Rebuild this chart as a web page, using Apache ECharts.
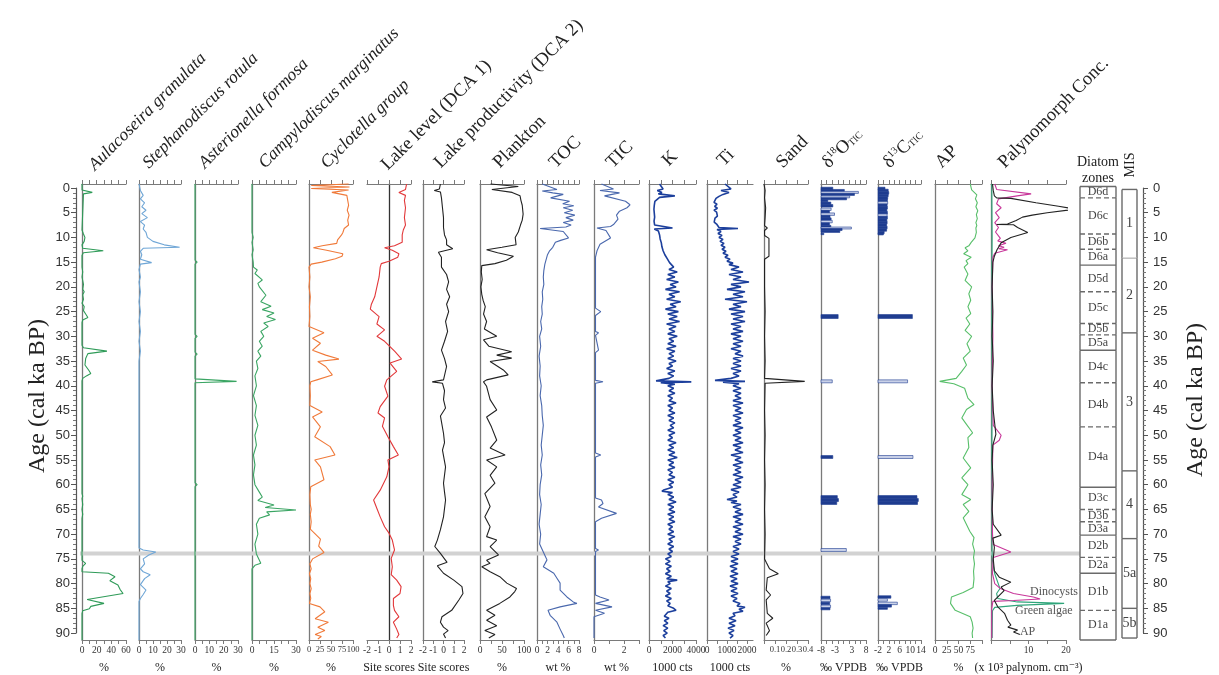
<!DOCTYPE html>
<html><head><meta charset="utf-8">
<script src="https://cdn.jsdelivr.net/npm/echarts@6/dist/echarts.min.js"></script>
<style>html,body{margin:0;padding:0;background:#fff}#c{width:1219px;height:675px}</style>
</head><body><div id="c"></div>
<script>
// ---------------- DATA (value, age in cal ka BP) ----------------
const aulacoseira = [[0,-0.8],[0,0.4],[14,0.9],[2,1.2],[0,1.6],[0,8.5],[2,9.3],[4,10],[3,10.8],[0,11.5],[1,12.2],[29,12.7],[2,13.1],[0,13.6],[0,16],[1,17],[0,18],[2,19.5],[1,20.5],[3,21],[1,21.6],[2,22.5],[0,23.3],[3,24],[2,24.8],[5,25.5],[8,26.2],[1,26.7],[0,27.2],[0,31.8],[2,32.3],[34,33],[8,33.5],[5,34.5],[4,35.8],[9,36.8],[12,37.5],[6,38],[1,38.5],[0,39],[0,61.8],[1,62.3],[0,62.8],[1,64],[0,65],[1,66],[0,66.8],[0,75.3],[5,75.9],[1,76.5],[0,77],[0,77.6],[36,77.9],[45,78.6],[38,79.4],[49,80.3],[52,81.2],[56,82],[57,82.3],[7,83.2],[30,84],[12,84.6],[10,85.1],[1,85.5],[0,86],[0,91.4]];
const stephanodiscus = [[0,-0.8],[1,0.5],[3,1.5],[1,2.2],[4,3],[2,3.8],[5,4.5],[2,5.2],[6,6],[1,6.8],[4,7.5],[3,8.3],[5,9],[6,10],[10,10.8],[18,11.5],[29,12],[3,12.2],[1,12.8],[2,13.5],[1,14.4],[9,15.1],[1,15.4],[0,16.5],[1,18],[0,19],[1,21],[0,23],[1,25],[0,27],[1,29],[0,31],[1,33],[0,35],[0,72.8],[3,73.2],[12,73.6],[7,74.2],[3,75],[4,76],[1,77],[3,77.6],[8,78.2],[4,79],[1,80.2],[5,81.3],[3,82.2],[1,83],[0,83.6],[0,91.4]];
const asterionella = [[0,-0.8],[0,14.6],[1.5,15],[0,15.4],[0,29.6],[1.5,30],[0,30.4],[0,33.2],[1.5,33.6],[0,34],[0,38.6],[29,39.1],[0,39.4],[0,59.6],[1.5,60],[0,60.4],[0,91.4]];
const campylodiscus = [[0,-0.8],[0,9],[0.8,10],[0,11],[0.8,12.5],[0,13.5],[0.8,15],[1,16],[3.6,16.6],[2,17.3],[7,18.6],[4,19.3],[5,20],[9.5,21.7],[6,23],[13,23.9],[7,24.6],[15,25.3],[10,26],[16,26.6],[8,27.3],[11,28],[6,29],[8,30],[5,31],[7,32],[4,33],[6,34],[3,35],[4,36.5],[2,38],[3,40],[1,42],[3,44],[2,46],[4,48],[2,50],[3,52],[1,54],[2,56],[1,58],[2,60],[5,61.5],[7,62.5],[4,63.2],[15,64.1],[9,64.6],[30,65.1],[10,65.5],[12,66.1],[5,66.8],[3,68],[4,70],[2,72],[3,74],[6,75.9],[2,76.3],[0,77],[0,91.4]];
const cyclotella = [[90,-0.8],[5,-0.5],[92,-0.2],[5,0.1],[90,0.4],[52,0.9],[86,1.5],[88,2.5],[90,3.5],[87,4.5],[91,5.5],[88,6.5],[90,7.5],[80,8.2],[77,9],[74,9.5],[65,10.5],[63,11.2],[30,11.7],[10,12.1],[40,12.6],[77,13.3],[75,13.8],[60,14.3],[29,15],[5,15.4],[0,16],[2,18],[0,20],[3,22],[1,24],[2,26],[0,28],[34,29.3],[8,30.4],[26,31.4],[8,32.8],[38,33.8],[68,34.6],[20,35.1],[38,36.1],[53,37.8],[18,38.8],[4,39.2],[2,40],[3,42],[2,44],[30,45.3],[8,46.3],[26,48.3],[13,50.3],[48,52.3],[59,54],[13,55],[26,56.4],[34,59],[4,60.4],[2,62],[3,64],[5,65],[3,66],[5,67.5],[3,69],[18,70.3],[26,71],[22,72.4],[34,73.7],[8,75],[2,76],[5,77],[1,78],[4,79],[2,80],[5,81],[2,82],[4,83],[1,84],[25,84.7],[36,85.7],[14,87.1],[44,87.8],[20,88.8],[36,89.5],[14,90.3],[28,90.7],[20,91.2]];
const lakeLevel = [[1.6,-0.8],[1.5,0.3],[0.9,0.9],[1.5,1.5],[1.4,2.5],[1.5,4],[1.4,6],[1.5,7.5],[1.3,8.5],[1.2,9.5],[1.2,11],[0.5,11.7],[-0.4,12.1],[0.3,12.6],[0.9,13.3],[0.8,14],[0.3,14.5],[0,14.8],[-0.7,15.3],[-0.8,16],[-0.9,18],[-1.1,20],[-1.3,22],[-1.6,23.5],[-1.7,24.5],[-0.9,26],[-1.1,27.5],[-0.4,28.7],[-1.1,30],[-0.4,31],[0.55,33.1],[1.15,34.6],[0.1,35.4],[0.7,37.1],[-0.2,38.8],[-0.4,40.1],[-0.1,42.1],[-0.8,44.2],[-1,45.5],[-0.4,46.5],[-0.6,48.2],[-0.1,50.3],[0.4,52.3],[0.85,54],[-0.1,55],[0,56.4],[-0.2,58.4],[-0.8,61.1],[-1.4,63.1],[-1.1,64.8],[-0.8,66.5],[-0.4,68.5],[0,69.8],[0.3,71.2],[0.5,73.2],[0.2,74.9],[0.3,76.6],[0.2,78.2],[0.7,79.3],[1.1,80.6],[1,82],[0.4,83],[0.4,84.4],[0.5,85.4],[0.9,86.7],[0.4,87.8],[0.7,89.2],[0.9,90.3],[0.7,91]];
const lakeProductivity = [[-0.3,-0.8],[-0.4,0.2],[-0.9,0.5],[-0.3,0.8],[-0.2,2],[-0.1,4],[0,6],[0,8],[0.1,9.5],[0.3,10.5],[0.3,11.5],[0.9,12.3],[-0.5,13],[-0.2,14],[-0.2,16],[0.3,17.5],[0.5,19],[0.3,20.5],[0.6,22],[0.3,23.5],[0.5,25],[0.2,27],[0.4,29],[0.1,31],[-0.2,32.8],[0.1,34.5],[0.3,36.1],[0,38.8],[-1.1,39.2],[-0.1,39.5],[0.1,41],[0,42.8],[0.2,44.5],[-0.3,46.1],[0,49.6],[0.1,51.5],[-0.1,53],[0.2,56.4],[0,59.7],[0.1,61.5],[0.2,63.1],[0,66.5],[-0.3,69.1],[-0.6,71.2],[-0.85,72.5],[-0.3,73.9],[0.35,75.7],[-0.6,76.4],[0,77.9],[1,79.3],[1.8,80.6],[1.9,82],[1.5,83.3],[0.8,85.4],[-0.15,86.7],[-0.3,87.8],[0,88.8],[0.45,89.5],[0,90.2],[0.2,91]];
const plankton = [[24,-0.8],[87,-0.3],[27,0.3],[73,0.9],[91,1.6],[93,2.5],[96,3.5],[98,5.3],[96,6.5],[92,7.5],[87,8.9],[80,10],[82,11.5],[50,12],[15,12.5],[40,13.1],[76,13.8],[60,14.6],[34,15.3],[4,15.7],[3,17],[5,18.5],[2,20],[4,21.5],[7,22.7],[12,24],[8,25.5],[15,27],[10,28.5],[38,30],[8,30.7],[20,32],[72,33.1],[38,33.8],[72,34.4],[23,35.1],[53,36.8],[64,37.8],[15,38.8],[8,39.2],[15,40.1],[23,42.8],[38,44.9],[15,46.3],[26,48.3],[38,51],[23,52.6],[57,54],[15,55],[38,56.4],[23,58.1],[34,59.7],[11,61.8],[23,64.4],[11,66.5],[23,68.5],[15,70.5],[38,71.2],[23,72.5],[42,74.2],[15,75.3],[23,75.9],[4,76.6],[23,77.6],[45,78.6],[61,79.9],[83,81],[79,81.6],[68,82.7],[45,84],[15,85.4],[34,86.4],[15,87.4],[38,88.5],[11,89.5],[34,90.3],[20,91]];
const toc = [[1,-0.8],[3.8,0.3],[1,0.6],[3,1],[5,1.3],[2.6,2],[6.2,2.7],[4.9,3.2],[7,3.6],[5,4],[6.8,4.5],[5.2,5],[7.2,5.5],[5.5,6],[6.9,6.5],[5,7],[6.5,7.5],[5.5,7.9],[0.6,8.2],[5,8.8],[6,10.1],[4.5,10.6],[3.5,11],[3,12],[2.4,12.7],[2,13.5],[1.5,15.4],[1.3,16.7],[1.2,18],[1.3,19.5],[1,21],[1.1,22.5],[0.9,24],[1,25.5],[0.7,27],[0.9,28.5],[0.5,30],[0.7,32],[0.4,34],[0.6,36],[0.5,38],[0.8,40],[0.6,42],[0.9,44],[1,46],[1.2,48],[1,50],[0.8,52],[1,54],[0.7,56],[0.9,58],[0.6,60],[0.5,62],[0.8,64],[0.6,66],[0.4,68],[0.7,70],[0.5,72],[1.6,74.5],[1.9,75.2],[1.2,76.6],[3.2,77.9],[3.8,78.9],[4.4,79.9],[4.4,81.3],[5.7,82.7],[6.9,83.7],[7.6,84],[4.4,84.7],[2.1,85.4],[2.5,86.4],[3.8,87.8],[4.4,89.2],[5,90.5],[5.2,91]];
const tic = [[0.5,-0.8],[1.3,0.2],[0.4,0.5],[1.7,1],[0.7,1.6],[2.1,2.7],[2.4,3.4],[2.2,4],[1.7,4.7],[1.5,5.5],[1.6,6.3],[1.3,7.4],[1.1,7.8],[0.2,8.1],[0.8,8.6],[1.1,10.1],[0.4,11.4],[0.2,12.7],[0.1,14],[0.1,24.3],[0.45,25],[0.1,25.8],[0.1,29],[0.3,29.3],[0.1,29.8],[0.3,32.8],[0.1,33.3],[0.1,38.9],[0.6,39.2],[0.1,39.5],[0.1,53.6],[0.45,54],[0.1,54.4],[0.1,62.7],[0.5,63.1],[0.6,63.8],[0.3,64.5],[1.5,65.8],[0.5,66.8],[0.1,67.5],[0.1,72.9],[0.3,73.2],[0.1,73.5],[0.1,82.3],[0.4,82.7],[1,83.3],[0.1,84],[1.2,84.7],[0.1,85.4],[0.7,86],[0,86.7],[0,91]];
const potassium = [[900,-0.8],[1200,0.2],[700,0.5],[1100,0.9],[800,1.2],[2200,1.6],[900,1.9],[700,2.3],[500,2.7],[650,3.1],[450,3.5],[620,3.9],[420,4.3],[580,4.7],[450,5.1],[600,5.5],[480,5.9],[560,6.3],[430,6.7],[600,7.1],[480,7.5],[650,7.8],[2000,8.1],[450,8.3],[800,8.7],[650,9.1],[900,9.5],[750,9.9],[950,10.3],[800,10.7],[1050,11.1],[900,11.5],[1100,11.9],[950,12.3],[1200,12.7],[1050,13.1],[1350,13.5],[1200,13.9],[1550,14.3],[1400,14.7],[1750,15.1],
[1600,15.5],[2100,16],[1700,16.5],[2400,17],[1600,17.5],[2200,18],[1500,18.5],[2500,19],[1800,19.5],[2300,20],[1400,20.5],[2600,21],[1700,21.5],[2200,22],[1500,22.5],[2700,23],[1800,23.5],[2300,24],[1400,24.5],[2500,25],[1600,25.5],[2400,26],[1700,26.5],[2600,27],[1500,27.5],[2300,28],[1700,28.5],[2200,29],[1600,29.5],[2400,30],[1700,30.5],[2100,31],[1600,31.5],[2300,32],[1500,32.5],[2200,33],[1700,33.5],[2100,34],[1600,34.5],[2300,35],[1700,35.5],[2000,36],[1500,36.5],[2200,37],[1600,37.5],[2100,38],[1700,38.5],[600,39],[3600,39.2],[1000,39.4],[2200,39.7],[1600,40],[2100,40.5],[1700,41],[2200,41.5],[1600,42],[2000,42.5],[1700,43],[2300,43.5],[1600,44],[2000,44.5],[1700,45],[2200,45.5],[1600,46],[2100,46.5],[1700,47],[2200,47.5],[1800,48],[2100,48.5],[1600,49],[2200,49.5],[1700,50],[2000,50.5],[1600,51],[2300,51.5],[1700,52],[2100,52.5],[1600,53],[2200,53.5],[1700,54],[2400,54.5],[1600,55],[2100,55.5],[1700,56],[2200,56.5],[1600,57],[2000,57.5],[1700,58],[2200,58.5],[1600,59],[2100,59.5],[1700,60],[2000,60.5],[1300,61],[1100,61.3],[2000,61.6],[1600,62],[2100,62.5],[1700,63],[2300,63.5],[1600,64],[2100,64.5],[1700,65],[2200,65.5],[1600,66],[2100,66.5],[1700,67],[2200,67.5],[1600,68],[2000,68.5],[1700,69],[2100,69.5],[1600,70],[2200,70.5],[1700,71],[2000,71.5],[1600,72],[2100,72.5],[1700,73],[2000,73.5],[1600,74],[1900,74.5],[1400,75],[1800,75.5],[1400,76],[1900,76.5],[1500,77],[1800,77.5],[1400,78],[1900,78.5],[1500,79],[2400,79.3],[1600,79.6],[1800,80],[1400,80.5],[1900,81],[1500,81.5],[1800,82],[1400,82.5],[1900,83],[1500,83.5],[1800,84],[1600,84.5],[2100,85],[2300,85.4],[1600,85.8],[1700,86.2],[1300,86.6],[1700,87],[1300,87.5],[1600,88],[1200,88.5],[1600,89],[1250,89.5],[1550,90],[1200,90.5],[1400,91]];
const titanium = [[900,-0.8],[1200,0.2],[700,0.5],[1100,0.9],[800,1.3],[600,1.7],[450,2.1],[550,2.5],[350,2.9],[500,3.3],[380,3.7],[520,4.1],[350,4.5],[480,4.9],[380,5.3],[520,5.7],[400,6.1],[500,6.5],[360,6.9],[480,7.3],[400,7.7],[600,8],[1550,8.2],[500,8.4],[700,8.8],[550,9.2],[750,9.6],[600,10],[800,10.4],[650,10.8],[850,11.2],[700,11.6],[900,12],[750,12.4],[950,12.8],[800,13.2],[1050,13.6],[900,14],[1150,14.4],[1000,14.8],[1300,15.2],
[1100,15.5],[1600,16],[1200,16.5],[1800,17],[1100,17.5],[1700,18],[1300,18.5],[2100,19],[1200,19.5],[1700,20],[1000,20.5],[1900,21],[1300,21.5],[1800,22],[900,22.5],[2000,23],[1300,23.5],[1700,24],[1100,24.5],[1900,25],[1200,25.5],[1800,26],[1300,26.5],[1900,27],[1200,27.5],[1700,28],[1300,28.5],[1800,29],[1200,29.5],[1700,30],[1300,30.5],[1800,31],[1300,31.5],[1700,32],[1200,32.5],[1700,33],[1400,33.5],[1800,34],[1300,34.5],[1700,35],[1300,35.5],[1700,36],[1200,36.5],[1700,37],[1300,37.5],[1600,38],[1200,38.5],[400,38.9],[1900,39.1],[800,39.3],[1600,39.6],[1300,40],[1700,40.5],[1300,41],[1700,41.5],[1400,42],[1700,42.5],[1300,43],[1800,43.5],[1300,44],[1700,44.5],[1400,45],[1800,45.5],[1300,46],[1700,46.5],[1400,47],[1700,47.5],[1300,48],[1800,48.5],[1400,49],[1700,49.5],[1300,50],[1700,50.5],[1400,51],[1800,51.5],[1300,52],[1700,52.5],[1400,53],[1800,53.5],[1200,54],[1700,54.5],[1400,55],[1800,55.5],[1300,56],[1700,56.5],[1400,57],[1700,57.5],[1300,58],[1800,58.5],[1400,59],[1700,59.5],[1300,60],[1700,60.5],[1200,61],[1600,61.5],[1300,62],[1500,62.5],[1000,63],[1500,63.3],[1200,63.6],[1700,64],[1300,64.5],[1700,65],[1400,65.5],[1800,66],[1300,66.5],[1700,67],[1400,67.5],[1800,68],[1300,68.5],[1700,69],[1400,69.5],[1800,70],[1300,70.5],[1700,71],[1400,71.5],[1700,72],[1300,72.5],[1600,73],[1300,73.5],[1600,74],[1200,74.5],[1550,75],[1200,75.5],[1550,76],[1150,76.5],[1500,77],[1200,77.5],[1550,78],[1150,78.5],[1500,79],[1200,79.5],[1550,80],[1150,80.5],[1500,81],[1200,81.5],[1550,82],[1200,82.5],[1500,83],[1300,83.5],[1650,84],[1500,84.5],[1900,84.8],[1600,85.2],[1800,85.6],[1300,86],[1400,86.5],[1100,87],[1450,87.5],[1100,88],[1400,88.5],[1050,89],[1350,89.5],[1100,90],[1300,90.5],[1150,91]];
const sand = [[0,-0.8],[0.01,0.5],[0.005,2],[0.015,4],[0.01,6],[0.005,7.6],[0.03,8.1],[0.005,8.6],[0.005,9.6],[0.045,10.2],[0.045,13.8],[0.005,14.4],[0.005,20],[0.01,25],[0.005,30],[0.01,35],[0.005,38.5],[0.37,39.1],[0.01,39.5],[0.005,45],[0.01,50],[0.005,55],[0.01,60],[0.005,65],[0.01,70],[0.005,75],[0.02,75.7],[0.05,77],[0.13,78],[0.03,78.8],[0.02,81.3],[0.06,82.3],[0.02,83.3],[0.03,86],[0.08,87],[0.02,88],[0.05,89.5],[0.02,90.5]];
// bars: [age, value, thickness (ka), style 0=filled 1=open]
const d18oBars = [[0.1,-3.8,0.5,0],[0.5,0.3,0.4,0],[0.9,5.3,0.4,1],[1.3,3.9,0.4,0],[1.8,2.2,0.4,1],[2.2,1.1,0.4,0],[2.6,-5.6,0.4,0],[3.1,-4.5,0.5,0],[3.6,-3.8,0.5,0],[4.3,-4.4,0.5,1],[4.8,-5,0.5,0],[5.3,-3.2,0.5,1],[5.8,-4.8,0.5,0],[6.3,-4.4,0.5,0],[6.8,-4,0.5,1],[7.3,-5,0.5,0],[7.8,-4.5,0.5,0],[8.1,2.8,0.4,1],[8.4,-0.5,0.4,0],[8.8,-1.3,0.4,0],[9.3,-7,0.3,0],[26,-1.9,0.8,0],[39.1,-4,0.6,1],[54.4,-3.8,0.6,0],[62.5,-2.2,0.6,0],[63.1,-1.8,0.6,0],[63.7,-2.4,0.6,0],[73.2,1,0.6,1],[82.8,-4.8,0.5,0],[83.4,-4.6,0.5,1],[84,-4.9,0.5,0],[84.6,-4.6,0.5,1],[85.1,-4.8,0.4,0]];
const d13cBars = [[0.1,0.6,0.5,0],[0.5,1.8,0.5,0],[1,2,0.5,0],[1.5,1.8,0.5,0],[2,1.6,0.5,0],[2.5,1.5,0.5,0],[3,1.6,0.5,1],[3.5,1.4,0.5,0],[4,1.5,0.5,0],[4.5,1.3,0.5,0],[5,1.5,0.5,0],[5.5,1.4,0.5,1],[6,1.5,0.5,0],[6.5,1.3,0.5,0],[7,1.4,0.5,0],[7.5,1.2,0.5,0],[8,1.4,0.5,0],[8.5,1.2,0.5,0],[9,0.3,0.5,0],[9.3,0,0.4,0],[26,10.8,0.8,0],[39.1,9,0.6,1],[54.4,11,0.6,1],[62.5,12.5,0.6,0],[63.1,13,0.6,0],[63.7,12.7,0.6,0],[82.7,2.8,0.5,0],[83.3,1.5,0.5,1],[84,5.2,0.5,1],[84.5,3,0.5,0],[85,1.5,0.4,0]];
const arborealPollen = [[75,-0.8],[78,0.4],[89,1.4],[86,2.2],[90,3],[87,3.8],[91,4.6],[88,5.4],[90,6.2],[87,7],[89,7.6],[87,8.1],[88,9],[85,10.1],[77,11],[72,11.7],[64,12.1],[70,12.7],[61,13.3],[77,14],[66,14.7],[70,15.3],[62,16],[70,17.4],[64,18.7],[78,20],[72,21.4],[76,22.7],[70,24],[76,25.4],[66,26.3],[74,27.5],[64,28.8],[78,30],[68,31.5],[75,33],[60,34.4],[67,35.8],[57,37.1],[45,38.5],[10,39.1],[40,39.6],[63,40.5],[70,42.5],[83,43.8],[67,44.8],[57,46.5],[67,47.8],[80,49.5],[70,50.5],[72,52.5],[60,54.6],[76,56.6],[57,58.6],[70,60],[57,62],[76,63],[60,64],[72,65.4],[60,66.7],[74,69.4],[83,70.7],[80,72],[84,73.4],[82,74.7],[84,76],[82,77.5],[83,79],[81,80.8],[60,81.8],[35,82.7],[33,84],[43,85.4],[75,86.7],[79,87.8],[81,89],[79,90],[80,91]];
const palAP = [[0.4,-0.8],[0.6,0.5],[0.9,1.6],[1.5,2],[5.3,2.1],[12,3],[18,3.7],[22.6,4.3],[15,5],[11,5.5],[8.4,5.9],[6.7,6.6],[4.4,7.3],[1.5,7.4],[6,7.45],[7.1,8],[9.8,9],[5.3,10],[2.7,11.1],[1.6,12.5],[0.9,13.8],[0.5,15],[0.3,20],[0.5,25],[0.3,30],[0.6,35],[0.3,40],[0.6,45],[1.3,49.8],[0.5,52],[0.3,55],[0.6,60],[0.3,65],[0.6,68],[2.7,70.2],[0.5,70.8],[0.9,72.7],[0.6,75],[0.9,77.4],[2.2,78.7],[5.3,79.7],[2.7,80.7],[3.5,81.4],[0.9,83.4],[1.8,84.7],[3.6,86],[4.4,87.4],[5.3,88.4],[4.5,88.8],[7.1,89.4],[6,89.8],[7.7,90.3]];
const palDinocysts = [[1,-0.8],[1.5,0.3],[10.7,1.2],[7,1.6],[2,2.2],[1.5,3.2],[2.7,4],[1.2,5],[2.2,6],[1,7],[2,8],[1.2,8.9],[2.5,10.2],[1.8,10.7],[4,11.2],[2,11.7],[3.5,12],[2,12.3],[4.4,12.5],[1,13.2],[0.5,14],[0.3,20],[0.5,30],[0.3,40],[0.6,48],[2.7,50],[2.2,51],[0.5,52],[0.3,60],[0.4,70],[0.6,72.1],[5.3,73.6],[0.6,74.7],[0.4,78],[1,80],[2.5,81],[6,82],[11.3,82.7],[13.1,83.1],[6,83.4],[0.5,83.6],[0.2,85],[0.2,91]];
const palGreenAlgae = [[0.2,-0.8],[0.3,10],[0.2,20],[0.3,40],[0.2,60],[0.3,75],[1,78],[2.4,81],[1.5,82],[1.8,83],[7,83.7],[19.5,84],[6.9,84.4],[1,84.8],[0.4,85.5],[0.3,91]];
const palLabels = [[10.4,81.7,'Dinocysts'],[6.4,85.6,'Green algae'],[7.7,89.8,'AP']];
// Diatom zones & MIS
const zoneNames = ['D6d','D6c','D6b','D6a','D5d','D5c','D5b','D5a','D4c','D4b','D4a','D3c','D3b','D3a','D2b','D2a','D1b','D1a'];
const zoneBounds = [-0.3,2,9.3,12.4,15.6,21,27.4,29.7,32.8,39.4,48.3,60.5,65,67.5,70.2,74.7,77.9,85.4,91.4];
const zoneDashedBottom = [1,1,1,0,1,1,1,0,1,1,0,1,1,0,1,0,1,0];
const misNames = ['1','2','3','4','5a','5b'];
const misBounds = [0.3,14.2,29.3,57.2,70.9,85,91];
const bandAge = 73.9;
// tick values / labels
const aulTicks=[0,10,20,30,40,50,60], aulLabels=[0,20,40,60];
const pct30Ticks=[0,5,10,15,20,25,30], pct30Labels=[0,10,20,30], campyLabels=[0,15,30];
const pct100Ticks=[0,25,50,75,100], cycloLabels=[0,25,50,75,100], planktonLabels=[0,50,100], apLabels=[0,25,50,75];
const dcaTicks=[-2,-1,0,1,2];
const tocTicks=[0,1,2,3,4,5,6,7,8], tocLabels=[0,2,4,6,8];
const ticTicks=[0,1,2,3], ticLabels=[0,2];
const kTicks=[0,1000,2000,3000,4000], kLabels=[0,2000,4000];
const tiTicks=[0,500,1000,1500,2000], tiLabels=[0,1000,2000];
const sandTicks=[0,0.1,0.2,0.3,0.4], sandLabels=[0.1,0.2,0.3,0.4];
const d18oTicks=[-8,-6,-4,-2,0,2,4,6,8], d18oLabels=[-8,-3,3,8];
const d13cTicks=[-2,0,2,4,6,8,10,12,14], d13cLabels=[-2,2,6,10,14];
const palTicks=[0,5,10,15,20], palLabels2=[10,20];

// ---------------- LAYOUT ----------------
const TOP=184, HEIGHT=456, AMIN=-0.8, AMAX=91.4;
const SERIF='"Liberation Serif", "DejaVu Serif", serif';
const panels = [
 {l:82,r:126,min:0,max:60,t:aulTicks,lb:aulLabels,unit:'%',title:'Aulacoseira granulata',it:true,tx:98,ty:174,s:[{d:aulacoseira,c:'#2f9b58'}]},
 {l:139,r:181,min:0,max:30,t:pct30Ticks,lb:pct30Labels,unit:'%',title:'Stephanodiscus rotula',it:true,tx:152,ty:172,s:[{d:stephanodiscus,c:'#6fa6d6'}]},
 {l:195,r:238,min:0,max:30,t:pct30Ticks,lb:pct30Labels,unit:'%',title:'Asterionella formosa',it:true,tx:208,ty:172,s:[{d:asterionella,c:'#3aa563'}]},
 {l:252,r:296,min:0,max:30,t:pct30Ticks,lb:campyLabels,unit:'%',title:'Campylodiscus marginatus',it:true,tx:268,ty:172,s:[{d:campylodiscus,c:'#3aa563'}]},
 {l:309,r:353,min:0,max:100,t:pct100Ticks,lb:cycloLabels,lf:8.5,unit:'%',title:'Cyclotella group',it:true,tx:330,ty:172,s:[{d:cyclotella,c:'#f07a3a'}]},
 {l:367,r:411,min:-2,max:2,t:dcaTicks,lb:dcaTicks,unit:'Site scores',title:'Lake level (DCA 1)',tx:391,ty:174,zero:true,s:[{d:lakeLevel,c:'#e2383a'}]},
 {l:423,r:464,min:-2,max:2,t:dcaTicks,lb:dcaTicks,unit:'Site scores',title:'Lake productivity (DCA 2)',tx:444,ty:172,s:[{d:lakeProductivity,c:'#222'}]},
 {l:480,r:524,min:0,max:100,t:pct100Ticks,lb:planktonLabels,unit:'%',title:'Plankton',tx:503,ty:172,s:[{d:plankton,c:'#222'}]},
 {l:537,r:579,min:0,max:8,t:tocTicks,lb:tocLabels,unit:'wt %',title:'TOC',tx:559,ty:172,s:[{d:toc,c:'#4a68ad'}]},
 {l:594,r:639,min:0,max:3,t:ticTicks,lb:ticLabels,unit:'wt %',title:'TIC',tx:616,ty:172,s:[{d:tic,c:'#4a68ad'}]},
 {l:649,r:696,min:0,max:4000,t:kTicks,lb:kLabels,unit:'1000 cts',title:'K',tx:672,ty:170,s:[{d:potassium,c:'#1c3f9c',w:1.6}]},
 {l:707,r:753,min:0,max:2300,t:tiTicks,lb:tiLabels,unit:'1000 cts',title:'Ti',tx:727,ty:170,s:[{d:titanium,c:'#1c3f9c',w:1.6}]},
 {l:764,r:808,min:0,max:0.4,t:sandTicks,lb:sandLabels,lf:8.5,unit:'%',title:'Sand',tx:786,ty:172,s:[{d:sand,c:'#222'}]},
 {l:821,r:866,min:-8,max:8,t:d18oTicks,lb:d18oLabels,unit:'‰ VPDB',title:'{a|δ}{s|18}{a|O}{b|TIC}',tx:832,ty:172,bars:d18oBars},
 {l:878,r:921,min:-2,max:14,t:d13cTicks,lb:d13cLabels,unit:'‰ VPDB',title:'{a|δ}{s|13}{a|C}{b|TIC}',tx:893,ty:172,bars:d13cBars},
 {l:935,r:982,min:0,max:100,t:pct100Ticks,lb:apLabels,unit:'%',title:'AP',tx:945,ty:172,s:[{d:arborealPollen,c:'#58bf6a'}]},
 {l:991,r:1066,min:0,max:20,t:palTicks,lb:palLabels2,unit:'(x 10³ palynom. cm⁻³)',title:'Palynomorph Conc.',tx:1008,ty:172,
   s:[{d:palGreenAlgae,c:'#2fa57a'},{d:palDinocysts,c:'#c8379a'},{d:palAP,c:'#222'}]}
];

const grid=[], xAxis=[], yAxis=[], series=[], graphic=[];
const AX='#7a7a7a';
const fmt = v => String(v);
function pushGrid(left,width,top,height){
  grid.push({left, width, top, height, containLabel:false, outerBoundsMode:'none'});
  return grid.length-1;
}
panels.forEach((p,i)=>{
  pushGrid(p.l, p.r-p.l, TOP, HEIGHT);
  xAxis.push({gridIndex:i, type:'value', position:'top', min:p.min, max:p.max,
    axisLine:{show:true, onZero:false, lineStyle:{color:AX,width:1.2}},
    axisTick:{show:true, length:4, customValues:p.t, lineStyle:{color:AX,width:1}},
    axisLabel:{show:false}, splitLine:{show:false}});
  xAxis.push({gridIndex:i, type:'value', position:'bottom', min:p.min, max:p.max,
    axisLine:{show:true, onZero:false, lineStyle:{color:AX,width:1.2}},
    axisTick:{show:true, length:4, customValues:p.t, lineStyle:{color:AX,width:1}},
    axisLabel:{show:true, customValues:p.lb, formatter:fmt, hideOverlap:false, showMinLabel:true, showMaxLabel:true,
      fontFamily:SERIF, fontSize:p.lf||9.5, color:'#333', margin:5},
    splitLine:{show:false},
    name:p.unit, nameLocation:'middle', nameGap:22, nameTextStyle:{fontFamily:SERIF, fontSize:12, color:'#222'}});
  yAxis.push({gridIndex:i, type:'value', inverse:true, min:AMIN, max:AMAX,
    axisLine:{show:true, onZero:!!p.zero, onZeroAxisIndex:2*i+1, lineStyle:{color:p.zero?'#333':AX, width:1.3}},
    axisTick:{show:false}, axisLabel:{show:false}, splitLine:{show:false}});
  (p.s||[]).forEach(s=>{
    series.push({type:'line', xAxisIndex:2*i+1, yAxisIndex:i, data:s.d, showSymbol:false, symbol:'none',
      clip:false, z:3, lineStyle:{color:s.c, width:s.w||1.1}, animation:false});
  });
  if(p.bars){
    const minX=p.min;
    series.push({type:'custom', xAxisIndex:2*i+1, yAxisIndex:i, data:p.bars, encode:{x:1,y:0}, z:3, animation:false,
      renderItem:(params,api)=>{
        const age=api.value(0), val=api.value(1), th=api.value(2), st=api.value(3);
        const a=api.coord([minX, age-th/2]), b=api.coord([val, age+th/2]);
        return {type:'rect', shape:{x:a[0], y:a[1], width:b[0]-a[0], height:b[1]-a[1]},
          style:{fill: st? '#c9d1e8':'#1f3d90', stroke:'#1f3d90', lineWidth:0.6}};
      }});
  }
  const rich={a:{fontFamily:SERIF,fontSize:18.5,color:'#222'}, s:{fontFamily:SERIF,fontSize:10,color:'#222',verticalAlign:'top',padding:[0,0,8,0]}, b:{fontFamily:SERIF,fontSize:10,color:'#222',padding:[6,0,0,0]}};
  graphic.push({type:'text', x:p.tx, y:p.ty, rotation:Math.PI/4, z:10,
    style:{text:p.title, fontFamily:SERIF, fontSize:p.it?17.5:18.5, fontStyle:p.it?'italic':'normal', fill:'#222',
      align:'left', verticalAlign:'bottom', textAlign:'left', textVerticalAlign:'bottom', rich: p.title.indexOf('{')===0? rich: undefined}});
});

const palIdx = panels.length-1;
series.push({type:'custom', xAxisIndex:2*palIdx+1, yAxisIndex:palIdx, data:palLabels, encode:{x:0,y:1}, z:4, animation:false,
  renderItem:(params,api)=>{
    const c=api.coord([api.value(0), api.value(1)]);
    return {type:'text', x:c[0], y:c[1], style:{text:palLabels[params.dataIndex][2], fontFamily:SERIF, fontSize:12, fill:'#555', align:'left', verticalAlign:'middle', textAlign:'left', textVerticalAlign:'middle'}};
  }});

function addGrid(left,width,top,height){
  const gi=pushGrid(left,width,top,height);
  xAxis.push({gridIndex:gi, type:'value', min:0, max:1, show:false});
  return gi;
}
function hiddenY(gi){
  yAxis.push({gridIndex:gi, type:'value', inverse:true, min:AMIN, max:AMAX, show:false});
  return yAxis.length-1;
}
{
  const gi=addGrid(80,1000,TOP,HEIGHT); const yi=hiddenY(gi);
  series.push({type:'custom', xAxisIndex:xAxis.length-1, yAxisIndex:yi, data:[[0,bandAge]], encode:{x:0,y:1}, z:1, animation:false,
    renderItem:(params,api)=>{
      const a=api.coord([0, api.value(1)-0.4]), b=api.coord([1, api.value(1)+0.4]);
      return {type:'rect', shape:{x:a[0],y:a[1],width:b[0]-a[0],height:b[1]-a[1]}, style:{fill:'#d2d2d2'}};
    }});
}
function zoneSeries(left,width,names,bounds,dashed,fontSize,lightIdx){
  const gi=addGrid(left,width,TOP,HEIGHT); const yi=hiddenY(gi);
  const rows=names.map((n,k)=>[bounds[k],bounds[k+1],dashed?dashed[k]:0]);
  series.push({type:'custom', xAxisIndex:xAxis.length-1, yAxisIndex:yi, data:rows, encode:{y:[0,1]}, z:3, animation:false,
    renderItem:(params,api)=>{
      const s=api.value(0), e=api.value(1), d=api.value(2), k=params.dataIndex;
      const a=api.coord([0,s]), b=api.coord([1,e]);
      const col='#6a6a6a';
      const ch=[
        {type:'line', shape:{x1:a[0],y1:a[1],x2:a[0],y2:b[1]}, style:{stroke:col,lineWidth:1.4}},
        {type:'line', shape:{x1:b[0],y1:a[1],x2:b[0],y2:b[1]}, style:{stroke:col,lineWidth:1.4}},
        {type:'line', shape:{x1:a[0],y1:b[1],x2:b[0],y2:b[1]}, style:{stroke:(k===lightIdx)?'#bbb':col,lineWidth:1.4,lineDash:d?[5,3]:null}},
        {type:'text', x:(a[0]+b[0])/2, y:(a[1]+b[1])/2, style:{text:names[k], fontFamily:SERIF, fontSize:fontSize, fill:'#444', align:'center', verticalAlign:'middle', textAlign:'center', textVerticalAlign:'middle'}}
      ];
      if(k===0) ch.push({type:'line', shape:{x1:a[0],y1:a[1],x2:b[0],y2:a[1]}, style:{stroke:col,lineWidth:1.4}});
      return {type:'group', children:ch};
    }});
}
zoneSeries(1080,36,zoneNames,zoneBounds,zoneDashedBottom,12,-1);
zoneSeries(1122,15,misNames,misBounds,null,14,0);

function ageAxis(left,pos){
  const gi=pushGrid(left,1,188,445);
  xAxis.push({gridIndex:gi, type:'value', min:0, max:1, show:false});
  yAxis.push({gridIndex:gi, type:'value', inverse:true, min:0, max:90, interval:5, position:pos,
    axisLine:{show:true, onZero:false, lineStyle:{color:'#555',width:1.2}},
    axisTick:{show:true, length:5, lineStyle:{color:'#555'}},
    minorTick:{show:true, splitNumber:5, length:3, lineStyle:{color:'#777'}},
    axisLabel:{show:true, fontFamily:'"Liberation Sans", Arial, sans-serif', fontSize:13, color:'#333', margin:pos==='left'?6:10},
    splitLine:{show:false}});
}
ageAxis(76,'left');
ageAxis(1142,'right');

graphic.push(
 {type:'text', x:38, y:396, rotation:Math.PI/2, style:{text:'Age (cal ka BP)', fontFamily:SERIF, fontSize:24, fill:'#222', align:'center', verticalAlign:'middle', textAlign:'center', textVerticalAlign:'middle'}},
 {type:'text', x:1196, y:400, rotation:Math.PI/2, style:{text:'Age (cal ka BP)', fontFamily:SERIF, fontSize:24, fill:'#222', align:'center', verticalAlign:'middle', textAlign:'center', textVerticalAlign:'middle'}},
 {type:'text', x:1098, y:162, style:{text:'Diatom', fontFamily:SERIF, fontSize:14, fill:'#222', align:'center', verticalAlign:'middle', textAlign:'center', textVerticalAlign:'middle'}},
 {type:'text', x:1098, y:178, style:{text:'zones', fontFamily:SERIF, fontSize:14, fill:'#222', align:'center', verticalAlign:'middle', textAlign:'center', textVerticalAlign:'middle'}},
 {type:'text', x:1130, y:165, rotation:Math.PI/2, style:{text:'MIS', fontFamily:SERIF, fontSize:14, fill:'#222', align:'center', verticalAlign:'middle', textAlign:'center', textVerticalAlign:'middle'}}
);

const chart = echarts.init(document.getElementById('c'), null, {renderer:'canvas'});
chart.setOption({animation:false, backgroundColor:'#fff', grid, xAxis, yAxis, series, graphic});
</script></body></html>
